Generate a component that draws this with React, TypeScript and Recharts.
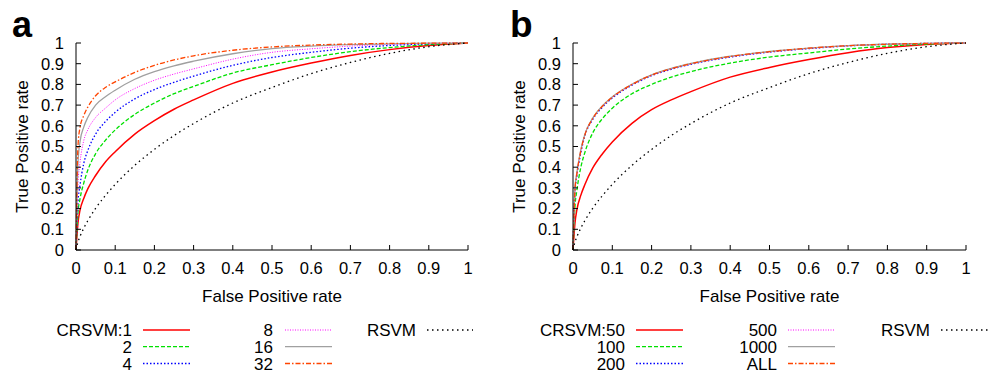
import React from 'react';
import { LineChart, Line, XAxis, YAxis } from 'recharts';

// False positive rate sample points (shared by every curve)
const FPR = [0, 0.005, 0.01, 0.02, 0.03, 0.05, 0.075, 0.1, 0.15, 0.2, 0.25, 0.3, 0.4, 0.5, 0.6, 0.7, 0.8, 0.9, 1];

// Panel a: true positive rates
const A_CRSVM1 = [0, 0.13, 0.19, 0.25, 0.295, 0.36, 0.425, 0.475, 0.56, 0.625, 0.68, 0.725, 0.805, 0.86, 0.903, 0.94, 0.968, 0.988, 1];
const A_CRSVM2 = [0, 0.18, 0.245, 0.325, 0.385, 0.465, 0.53, 0.58, 0.655, 0.71, 0.755, 0.79, 0.855, 0.895, 0.93, 0.958, 0.978, 0.992, 1];
const A_CRSVM4 = [0, 0.23, 0.31, 0.42, 0.48, 0.56, 0.62, 0.665, 0.73, 0.775, 0.81, 0.84, 0.892, 0.93, 0.955, 0.975, 0.988, 0.996, 1];
const A_CRSVM8 = [0, 0.32, 0.42, 0.53, 0.58, 0.64, 0.685, 0.725, 0.78, 0.82, 0.85, 0.875, 0.922, 0.955, 0.972, 0.985, 0.993, 0.998, 1];
const A_CRSVM16 = [0, 0.42, 0.52, 0.595, 0.64, 0.7, 0.74, 0.772, 0.825, 0.862, 0.89, 0.912, 0.948, 0.973, 0.985, 0.992, 0.996, 0.999, 1];
const A_CRSVM32 = [0, 0.5, 0.59, 0.65, 0.69, 0.745, 0.785, 0.812, 0.858, 0.892, 0.918, 0.938, 0.965, 0.981, 0.99, 0.995, 0.998, 0.999, 1];
const RSVM = [0, 0.038, 0.064, 0.106, 0.141, 0.201, 0.263, 0.317, 0.409, 0.486, 0.553, 0.611, 0.71, 0.785, 0.852, 0.906, 0.95, 0.982, 1];

// Panel b: true positive rates
const B_CRSVM50 = [0, 0.13, 0.195, 0.265, 0.315, 0.395, 0.465, 0.522, 0.612, 0.678, 0.725, 0.765, 0.835, 0.882, 0.92, 0.953, 0.978, 0.993, 1];
const B_CRSVM100 = [0, 0.21, 0.29, 0.4, 0.47, 0.565, 0.635, 0.685, 0.755, 0.8, 0.835, 0.862, 0.903, 0.932, 0.952, 0.971, 0.985, 0.995, 1];
const B_CRSVM200 = [0, 0.28, 0.36, 0.47, 0.55, 0.63, 0.69, 0.734, 0.796, 0.842, 0.873, 0.897, 0.932, 0.956, 0.973, 0.986, 0.994, 0.998, 1];
const B_CRSVM500 = [0, 0.29, 0.37, 0.48, 0.555, 0.634, 0.694, 0.737, 0.799, 0.844, 0.875, 0.899, 0.934, 0.957, 0.974, 0.987, 0.994, 0.998, 1];
const B_CRSVM1000 = [0, 0.295, 0.375, 0.485, 0.558, 0.637, 0.697, 0.74, 0.801, 0.846, 0.877, 0.901, 0.936, 0.959, 0.975, 0.987, 0.994, 0.998, 1];
const B_CRSVMALL = [0, 0.29, 0.37, 0.48, 0.555, 0.635, 0.695, 0.738, 0.8, 0.845, 0.876, 0.9, 0.935, 0.958, 0.975, 0.987, 0.994, 0.998, 1];

const TICKS = [0, 0.1, 0.2, 0.3, 0.4, 0.5, 0.6, 0.7, 0.8, 0.9, 1];

const A_NAMES = ['CRSVM:1', '2', '4', '8', '16', '32', 'RSVM'];
const B_NAMES = ['CRSVM:50', '100', '200', '500', '1000', 'ALL', 'RSVM'];

const STYLES = [
  { color: '#ff0000', dash: undefined as string | undefined, width: 1.5 },
  { color: '#00e000', dash: '4 2', width: 1.3 },
  { color: '#0000ff', dash: '1.5 2', width: 1.3 },
  { color: '#ff00ff', dash: '1 1.5', width: 1 },
  { color: '#a0a0a0', dash: undefined as string | undefined, width: 1.3 },
  { color: '#ff4500', dash: '5 2 1.5 2', width: 1.3 },
  { color: '#000000', dash: '1.5 3.5', width: 1.3 },
];

const FONT = '"Liberation Sans", Arial, Helvetica, sans-serif';

type PanelProps = { left: number; width: number; series: number[][]; names: string[] };

function Panel({ left, width, series, names }: PanelProps) {
  const rows = FPR.map((x, i) => {
    const r: Record<string, number> = { fpr: x };
    series.forEach((s, k) => {
      r['s' + k] = s[i];
    });
    return r;
  });
  const axisStroke = { stroke: '#000', strokeWidth: 1 };
  return (
    <div style={{ position: 'absolute', left, top: 0 }}>
      <LineChart width={width} height={310} data={rows} margin={{ top: 43, right: 32, bottom: 0, left: 0 }} style={{ fontFamily: FONT }}>
        <XAxis
          xAxisId="b"
          dataKey="fpr"
          type="number"
          domain={[0, 1]}
          ticks={TICKS}
          interval={0}
          height={60}
          tickSize={-5}
          tickMargin={17}
          axisLine={axisStroke}
          tickLine={axisStroke}
          tick={{ fill: '#000', fontSize: 16.5, fontFamily: FONT }}
          label={{ value: 'False Positive rate', position: 'insideBottom', offset: 8, fill: '#000', fontSize: 17, fontFamily: FONT }}
        />
        <XAxis xAxisId="t" orientation="top" dataKey="fpr" type="number" domain={[0, 1]} ticks={TICKS} interval={0} height={0} tickSize={-5} tick={false} axisLine={axisStroke} tickLine={axisStroke} />
        <YAxis
          yAxisId="l"
          type="number"
          domain={[0, 1]}
          ticks={TICKS}
          interval={0}
          width={76}
          tickSize={-5}
          tickMargin={17}
          axisLine={axisStroke}
          tickLine={axisStroke}
          tick={{ fill: '#000', fontSize: 16.5, fontFamily: FONT }}
          label={{ value: 'True Positive rate', angle: -90, position: 'insideLeft', offset: 22, fill: '#000', fontSize: 17, fontFamily: FONT, style: { textAnchor: 'middle' } }}
        />
        <YAxis yAxisId="r" orientation="right" type="number" domain={[0, 1]} ticks={TICKS} interval={0} width={0} tickSize={-5} tick={false} axisLine={axisStroke} tickLine={axisStroke} />
        {series.map((_, k) => (
          <Line
            key={k}
            xAxisId="b"
            yAxisId="l"
            type="monotone"
            dataKey={'s' + k}
            name={names[k]}
            stroke={STYLES[k].color}
            strokeWidth={STYLES[k].width}
            strokeDasharray={STYLES[k].dash}
            dot={false}
            activeDot={false}
            isAnimationActive={false}
          />
        ))}
      </LineChart>
    </div>
  );
}

function LegendBlock({ names, cols }: { names: string[]; cols: { textEnd: number; x1: number; x2: number }[] }) {
  const baselines = [336, 352.7, 369.5];
  const groups = [[0, 1, 2], [3, 4, 5], [6]];
  return (
    <g>
      {groups.map((g, ci) =>
        g.map((k, ri) => (
          <g key={k}>
            <text x={cols[ci].textEnd} y={baselines[ri]} textAnchor="end" fontSize={17} fontFamily={FONT} fill="#000">
              {names[k]}
            </text>
            <line
              x1={cols[ci].x1}
              x2={cols[ci].x2}
              y1={baselines[ri] - 6}
              y2={baselines[ri] - 6}
              stroke={STYLES[k].color}
              strokeWidth={STYLES[k].width}
              strokeDasharray={STYLES[k].dash}
            />
          </g>
        ))
      )}
    </g>
  );
}

export default function App() {
  return (
    <div style={{ position: 'absolute', left: 0, top: 0, width: 998, height: 377, background: '#fff', fontFamily: FONT, overflow: 'hidden' }}>
      <Panel left={0} width={500} names={A_NAMES} series={[A_CRSVM1, A_CRSVM2, A_CRSVM4, A_CRSVM8, A_CRSVM16, A_CRSVM32, RSVM]} />
      <Panel left={497} width={501} names={B_NAMES} series={[B_CRSVM50, B_CRSVM100, B_CRSVM200, B_CRSVM500, B_CRSVM1000, B_CRSVMALL, RSVM]} />
      <svg width={998} height={377} style={{ position: 'absolute', left: 0, top: 0, pointerEvents: 'none' }}>
        <text x={12} y={37} fontSize={36} fontWeight="bold" fontFamily={FONT} fill="#000">a</text>
        <text x={510} y={37} fontSize={37} fontWeight="bold" fontFamily={FONT} fill="#000">b</text>
        <LegendBlock
          names={A_NAMES}
          cols={[
            { textEnd: 132, x1: 143, x2: 190 },
            { textEnd: 273, x1: 285, x2: 332 },
            { textEnd: 416, x1: 427, x2: 473 },
          ]}
        />
        <LegendBlock
          names={B_NAMES}
          cols={[
            { textEnd: 625, x1: 636, x2: 683 },
            { textEnd: 777, x1: 788, x2: 835 },
            { textEnd: 930, x1: 941, x2: 988 },
          ]}
        />
      </svg>
    </div>
  );
}
